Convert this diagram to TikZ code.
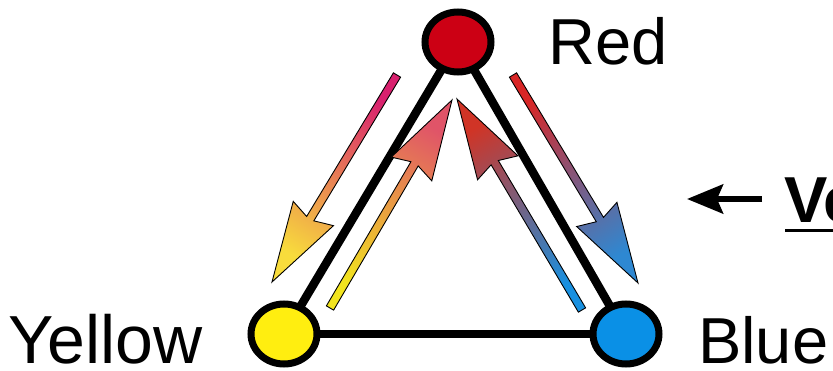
\documentclass[tikz,border=0pt]{standalone}
\usepackage{fontspec}
\setmainfont{Liberation Sans}
\usetikzlibrary{calc,shapes.geometric,arrows.meta,backgrounds}
\definecolor{cred}{HTML}{CC0014}
\definecolor{cyel}{HTML}{FFEE10}
\definecolor{cblue}{HTML}{0A90E6}
\definecolor{aPink}{HTML}{D8206E}
\definecolor{aSalmon}{HTML}{F08C6E}
\definecolor{aYellow}{HTML}{F8DC3C}
\definecolor{bYellow}{HTML}{F2E41E}
\definecolor{bOrange}{HTML}{F0B464}
\definecolor{bPink}{HTML}{E05468}
\definecolor{cBlueT}{HTML}{1890E0}
\definecolor{cGrey}{HTML}{8A8E9E}
\definecolor{cRedT}{HTML}{D03426}
\definecolor{dRed}{HTML}{D82626}
\definecolor{dGrey}{HTML}{9A8486}
\definecolor{dBlue}{HTML}{2E88D2}
\tikzset{
  vertex/.style={ellipse, draw=black, line width=7pt, minimum width=66pt, minimum height=60pt, inner sep=0pt},
  edgeline/.style={line width=8.5pt},
  lbl/.style={inner sep=0pt, anchor=base west, font=\fontsize{65}{78}\selectfont},
  gradedge/.style={draw=black, line width=0.9pt, line join=miter}
}
\newcommand\gradarrow[6]{%
  \path (#1) coordinate (gT) (#2) coordinate (gH)
    ($(gH)!74pt!(gT)$) coordinate (gJ)
    ($(gH)!80pt!(gT)$) coordinate (gK);
  \shade[gradedge, top color=#4, middle color=#5, bottom color=#6, shading angle=#3]
    ($(gT)!4.2pt!90:(gH)$) -- ($(gJ)!4.2pt!90:(gH)$) -- ($(gK)!23.5pt!90:(gH)$) -- (gH)
    -- ($(gK)!23.5pt!-90:(gH)$) -- ($(gJ)!4.2pt!-90:(gH)$) -- ($(gT)!4.2pt!-90:(gH)$) -- cycle;
}
\begin{document}
\begin{tikzpicture}[x=1pt,y=1pt]
\useasboundingbox (0,0) rectangle (833,370);
\clip (0,0) rectangle (833,370);
% vertices
\node[vertex, fill=cred]  (red)    at (458,328) {};
\node[vertex, fill=cyel]  (yellow) at (284,36) {};
\node[vertex, fill=cblue] (blue)   at (626,36) {};
\begin{scope}[on background layer]
  \draw[edgeline] (red.center) -- (yellow.center);
  \draw[edgeline] (red.center) -- (blue.center);
  \draw[edgeline] (yellow.center) -- (blue.center);
\end{scope}
% labels
\node[lbl] (tred) at (548,305) {Red};
\node[lbl, font=\fontsize{68}{80}\selectfont] (tyellow) at (8,7) {Yellow};
\node[lbl] (tblue) at (698,7) {Blue};
\node[lbl, font=\fontsize{65}{78}\selectfont\bfseries] (tv) at (784,147) {Ve};
\coordinate (ul1) at (785,139);
\coordinate (ul2) at (833,139);
\draw[line width=3pt] (ul1) -- (ul2);
% pointer arrow
\coordinate (ps) at (762,171);
\coordinate (pe) at (687,171);
\draw[line width=6pt, -{Stealth[length=36pt,width=29pt,inset=6pt]}] (ps) -- (pe);
% gradient arrows
\coordinate (a1t) at (397,295); \coordinate (a1h) at (272,88);
\coordinate (a2t) at (330,62);  \coordinate (a2h) at (452,270);
\coordinate (a3t) at (582,60);  \coordinate (a3h) at (457,271);
\coordinate (a4t) at (513,295); \coordinate (a4h) at (638,87);
\gradarrow{a1t}{a1h}{-31}{aPink}{aSalmon}{aYellow}
\gradarrow{a2t}{a2h}{150}{bYellow}{bOrange}{bPink}
\gradarrow{a3t}{a3h}{-150}{cBlueT}{cGrey}{cRedT}
\gradarrow{a4t}{a4h}{31}{dRed}{dGrey}{dBlue}
\end{tikzpicture}
\end{document}
